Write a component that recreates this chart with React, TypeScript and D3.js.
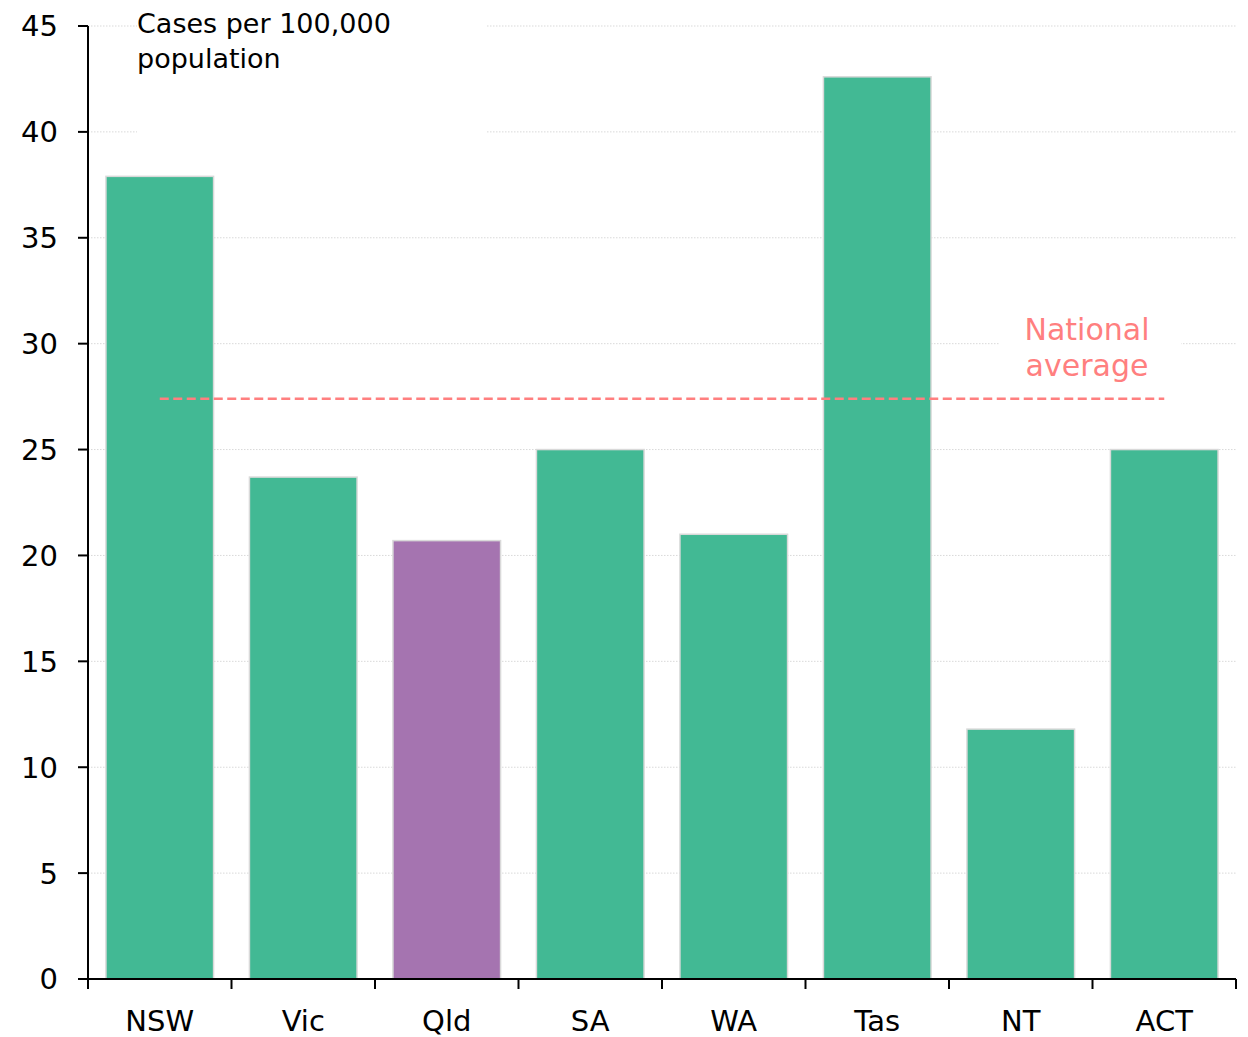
import React from "react";
import * as d3 from "d3";

const categories = ["NSW", "Vic", "Qld", "SA", "WA", "Tas", "NT", "ACT"];
const values = [37.9, 23.7, 20.7, 25.0, 21.0, 42.6, 11.8, 25.0];
const highlighted = ["Qld"];
const nationalAverage = 27.4;
const yTicks = [0, 5, 10, 15, 20, 25, 30, 35, 40, 45];
const titleLines = ["Cases per 100,000", "population"];
const avgLabelLines = ["National", "average"];

const W = 1248;
const H = 1037;
const FONT = "'DejaVu Sans', sans-serif";
const TEAL = "#42b994";
const PURPLE = "#a574b0";
const RED = "#ff7f7f";

export default function App() {
  const x = d3.scaleBand<string>().domain(categories).range([88, 1236]).paddingInner(0.25).paddingOuter(0.125);
  const y = d3.scaleLinear().domain([0, 45]).range([979, 26]);
  const step = x.step();
  const boundaries = categories.map((c) => (x(c) as number) - step * 0.125).concat([1236]);
  const avgY = y(nationalAverage);
  const first = categories[0];
  const last = categories[categories.length - 1];
  const avgX1 = (x(first) as number) + x.bandwidth() / 2;
  const avgX2 = (x(last) as number) + x.bandwidth() / 2;

  return (
    <svg width={W} height={H} style={{ position: "absolute", left: 0, top: 0, background: "#fff" }} fontFamily={FONT}>
      {/* gridlines */}
      {yTicks.filter((t) => t > 0).map((t) => (
        <line key={"g" + t} x1={88} x2={1236} y1={y(t)} y2={y(t)} stroke="#d9d9d9" strokeWidth={1} strokeDasharray="1.5,1.5" />
      ))}
      {/* title background box */}
      <rect x={137} y={0} width={349} height={140} fill="#fff" />
      {/* avg label background box */}
      <rect x={1000} y={305} width={181} height={80} fill="#fff" />

      {/* bars */}
      {categories.map((c, i) => (
        <rect
          key={c}
          x={x(c)}
          y={y(values[i])}
          width={x.bandwidth()}
          height={y(0) - y(values[i])}
          fill={highlighted.includes(c) ? PURPLE : TEAL}
          stroke="#d9d9d9"
          strokeWidth={1.5}
        />
      ))}

      {/* national average */}
      <line x1={avgX1} x2={avgX2} y1={avgY} y2={avgY} stroke={RED} strokeWidth={2.5} strokeDasharray="9,4.5" />
      {avgLabelLines.map((l, i) => (
        <text key={l} x={1087} y={340 + i * 36} textAnchor="middle" fill={RED} fontSize={30}>
          {l}
        </text>
      ))}

      {/* title */}
      {titleLines.map((l, i) => (
        <text key={l} x={137} y={33 + i * 35} fill="#000" fontSize={27}>
          {l}
        </text>
      ))}

      {/* y axis */}
      <line x1={88} x2={88} y1={y(45)} y2={y(0)} stroke="#000" strokeWidth={2} />
      {yTicks.map((t) => (
        <g key={"t" + t}>
          <line x1={78} x2={88} y1={y(t)} y2={y(t)} stroke="#000" strokeWidth={2} />
          <text x={58} y={y(t)} dy="0.36em" textAnchor="end" fontSize={29} fill="#000">
            {t}
          </text>
        </g>
      ))}

      {/* x axis */}
      <line x1={88} x2={1236} y1={y(0)} y2={y(0)} stroke="#000" strokeWidth={2} />
      {boundaries.map((b, i) => (
        <line key={"b" + i} x1={b} x2={b} y1={y(0)} y2={y(0) + 10} stroke="#000" strokeWidth={2} />
      ))}
      {categories.map((c) => (
        <text key={"l" + c} x={(x(c) as number) + x.bandwidth() / 2} y={1031} textAnchor="middle" fontSize={29} fill="#000">
          {c}
        </text>
      ))}
    </svg>
  );
}
